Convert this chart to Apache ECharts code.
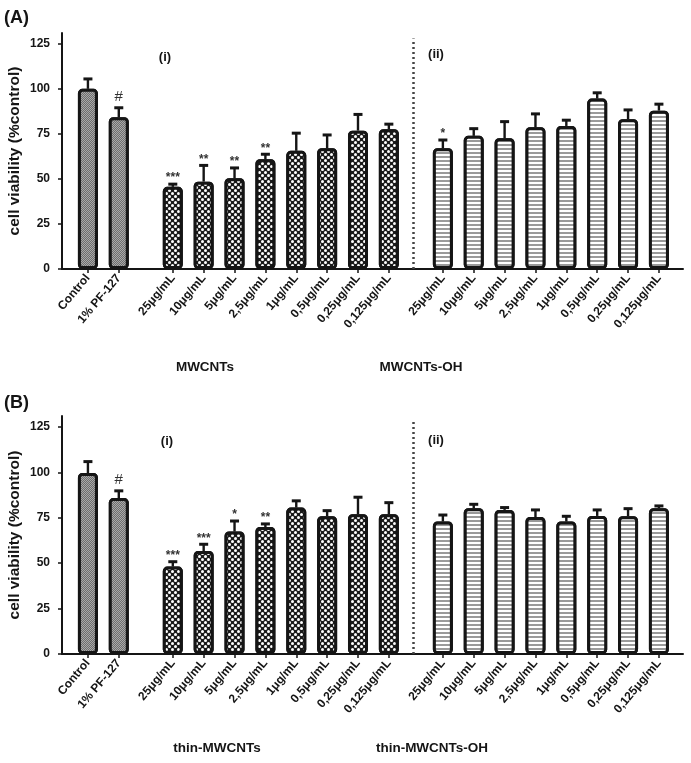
<!DOCTYPE html>
<html>
<head>
<meta charset="utf-8">
<script src="https://cdn.jsdelivr.net/npm/echarts@6/dist/echarts.min.js"></script>
<style>html,body{margin:0;padding:0;background:#fff}#c{width:691px;height:763px}</style>
</head>
<body>
<div id="c"></div>
<script>
// ---------- data ----------
const controlCats = ['Control', '1% PF-127'];
const doseCats = ['25μg/mL', '10μg/mL', '5μg/mL', '2,5μg/mL', '1μg/mL', '0,5μg/mL', '0,25μg/mL', '0,125μg/mL'];
const yTicks = [0, 25, 50, 75, 100, 125];
const panelTitles = ['(A)', '(B)'];
const subTitles = ['(i)', '(ii)'];
const groupNamesA = ['MWCNTs', 'MWCNTs-OH'];
const groupNamesB = ['thin-MWCNTs', 'thin-MWCNTs-OH'];
const yName = 'cell viability (%control)';

// Panel A
const A_ctrl = [100, 84.3];
const A_ctrlErr = [5.5, 5.2];
const A_ctrlSig = ['', '#'];
const A_mw = [45.6, 48.5, 50.4, 60.9, 65.6, 67.0, 76.8, 77.6];
const A_mwErr = [1.5, 9.0, 5.7, 2.8, 9.8, 7.4, 9.0, 2.8];
const A_mwSig = ['***', '**', '**', '**', '', '', '', ''];
const A_oh = [67.0, 73.9, 72.6, 78.7, 79.4, 94.6, 83.1, 87.9];
const A_ohErr = [4.6, 4.0, 9.2, 7.4, 3.2, 3.2, 5.2, 3.6];
const A_ohSig = ['*', '', '', '', '', '', '', ''];

// Panel B
const B_ctrl = [99.6, 85.8];
const B_ctrlErr = [6.3, 4.0];
const B_ctrlSig = ['', '#'];
const B_mw = [48.1, 56.7, 67.4, 69.9, 80.6, 75.8, 76.9, 76.9];
const B_mwErr = [2.7, 3.7, 5.8, 1.7, 3.7, 3.1, 9.4, 6.4];
const B_mwSig = ['***', '***', '*', '**', '', '', '', ''];
const B_oh = [72.9, 80.2, 79.3, 75.4, 72.9, 76.0, 75.8, 80.2];
const B_ohErr = [3.6, 2.2, 1.3, 3.9, 2.9, 3.3, 4.2, 1.3];
const B_ohSig = ['', '', '', '', '', '', '', ''];

// ---------- layout helpers ----------
const MW_START = 2.75, OH_START = 11.5;
const posCtrl = i => i;
const posMw = j => MW_START + j;
const posOh = j => OH_START + j;
const dividerPos = (posMw(doseCats.length - 1) + posOh(0)) / 2 - 0.07;

const labelMap = {};
controlCats.forEach((c, i) => labelMap[Math.round(posCtrl(i) * 100)] = c);
doseCats.forEach((c, j) => { labelMap[Math.round(posMw(j) * 100)] = c; labelMap[Math.round(posOh(j) * 100)] = c; });
const tickPositions = [].concat(controlCats.map((c, i) => posCtrl(i)), doseCats.map((c, j) => posMw(j)), doseCats.map((c, j) => posOh(j)));

const FONT = 'Arial, "Liberation Sans", Helvetica, sans-serif';
const INK = '#151515';
const groupFont = 'bold 13.5px ' + FONT;

const styles = {
  ctrl: {
    color: '#8c8c8c',
    decal: { symbol: 'rect', symbolSize: 1, dashArrayX: [[1, 1], [0, 1, 1, 0]], dashArrayY: [1, 0], color: '#6e6e6e', backgroundColor: '#a9a9a9' }
  },
  mw: {
    color: '#777',
    decal: { symbol: 'circle', symbolSize: 1, dashArrayX: [[3, 3], [0, 3, 3, 0]], dashArrayY: [3, 0], color: '#ffffff', backgroundColor: '#1a1a1a' }
  },
  oh: {
    color: '#bbb',
    decal: { symbol: 'rect', symbolSize: 1, dashArrayX: [1, 0], dashArrayY: [2, 2], color: '#9a9a9a', backgroundColor: '#ffffff' }
  }
};

function barSeries(gi, vals, posFn, st) {
  return {
    type: 'bar', xAxisIndex: gi, yAxisIndex: gi, barWidth: 20, barGap: '-100%',
    itemStyle: { color: st.color, decal: st.decal, borderColor: INK, borderWidth: 3, borderRadius: 3 },
    data: vals.map((v, i) => [posFn(i), v]),
    z: 2
  };
}
function errSeries(gi, vals, errs, sigs, posFn) {
  return {
    type: 'custom', xAxisIndex: gi, yAxisIndex: gi, z: 5,
    data: vals.map((v, i) => [posFn(i), v, errs[i]]),
    renderItem: (params, api) => {
      const x = api.value(0), v = api.value(1), e = api.value(2);
      const p0 = api.coord([x, v]);
      const p1 = api.coord([x, v + e]);
      const sig = sigs[params.dataIndex];
      const isHash = sig === '#';
      return {
        type: 'group',
        children: [
          { type: 'line', shape: { x1: p0[0], y1: p0[1], x2: p1[0], y2: p1[1] }, style: { stroke: INK, lineWidth: 2.4 } },
          { type: 'line', shape: { x1: p1[0] - 4.5, y1: p1[1], x2: p1[0] + 4.5, y2: p1[1] }, style: { stroke: INK, lineWidth: 3 } },
          { type: 'text', x: p1[0], y: p1[1] - (isHash ? 3 : 0), style: { text: sig, textAlign: 'center', textVerticalAlign: 'bottom', font: (isHash ? '15px ' : 'bold 12px ') + FONT, fill: '#333' } }
        ]
      };
    }
  };
}
function dividerSeries(gi) {
  return {
    type: 'line', xAxisIndex: gi, yAxisIndex: gi, data: [], silent: true,
    markLine: { symbol: 'none', silent: true, label: { show: false },
      lineStyle: { type: [2, 3], color: '#444', width: 2.5 },
      data: [[{ coord: [dividerPos, 0] }, { coord: [dividerPos, 128] }]] }
  };
}

const grids = [
  { left: 62, right: 8, top: 33, height: 236, containLabel: false, outerBoundsMode: 'none' },
  { left: 62, right: 8, top: 416, height: 238, containLabel: false, outerBoundsMode: 'none' }
];
function xAxisDef(gi) {
  return {
    type: 'value', gridIndex: gi, min: -0.84, max: 19.28,
    splitLine: { show: false },
    axisLine: { show: true, onZero: false, lineStyle: { color: INK, width: 2 } },
    axisTick: { show: true, customValues: tickPositions, length: 4, lineStyle: { color: INK, width: 1.5 } },
    axisLabel: { customValues: tickPositions, rotate: 50, margin: 7, fontSize: 12, fontWeight: 'bold', fontFamily: FONT, color: INK,
      formatter: v => labelMap[Math.round(v * 100)] || '' }
  };
}
function yAxisDef(gi) {
  return {
    type: 'value', gridIndex: gi, min: 0, max: 131, interval: 25,
    name: yName, nameLocation: 'middle', nameGap: 39, nameRotate: 90, nameMoveOverlap: false,
    nameTextStyle: { fontSize: 15.5, fontWeight: 'bold', fontFamily: FONT, color: INK },
    splitLine: { show: false },
    axisLine: { show: true, onZero: false, lineStyle: { color: INK, width: 2 } },
    axisTick: { show: true, customValues: yTicks, length: 4, lineStyle: { color: INK, width: 1.5 } },
    axisLabel: { customValues: yTicks, margin: 12, fontSize: 12, fontWeight: 'bold', fontFamily: FONT, color: INK }
  };
}

const textEl = (txt, x, y, font, align) => ({
  type: 'text', x: x, y: y,
  style: { text: txt, font: font, fill: INK, textAlign: align || 'center', textVerticalAlign: 'middle' }
});
const bold = s => 'bold ' + s + 'px ' + FONT;

const option = {
  animation: false,
  backgroundColor: '#fff',
  grid: grids,
  xAxis: [xAxisDef(0), xAxisDef(1)],
  yAxis: [yAxisDef(0), yAxisDef(1)],
  series: [
    barSeries(0, A_ctrl, posCtrl, styles.ctrl),
    barSeries(0, A_mw, posMw, styles.mw),
    barSeries(0, A_oh, posOh, styles.oh),
    errSeries(0, A_ctrl, A_ctrlErr, A_ctrlSig, posCtrl),
    errSeries(0, A_mw, A_mwErr, A_mwSig, posMw),
    errSeries(0, A_oh, A_ohErr, A_ohSig, posOh),
    dividerSeries(0),
    barSeries(1, B_ctrl, posCtrl, styles.ctrl),
    barSeries(1, B_mw, posMw, styles.mw),
    barSeries(1, B_oh, posOh, styles.oh),
    errSeries(1, B_ctrl, B_ctrlErr, B_ctrlSig, posCtrl),
    errSeries(1, B_mw, B_mwErr, B_mwSig, posMw),
    errSeries(1, B_oh, B_ohErr, B_ohSig, posOh),
    dividerSeries(1)
  ],
  graphic: [
    textEl(panelTitles[0], 4, 18, bold(18), 'left'),
    textEl(panelTitles[1], 4, 403, bold(18), 'left'),
    textEl(subTitles[0], 165, 57, bold(13)),
    textEl(subTitles[1], 436, 54, bold(13)),
    textEl(subTitles[0], 167, 441, bold(13)),
    textEl(subTitles[1], 436, 440, bold(13)),
    textEl(groupNamesA[0], 205, 367, groupFont),
    textEl(groupNamesA[1], 421, 367, groupFont),
    textEl(groupNamesB[0], 217, 748, groupFont),
    textEl(groupNamesB[1], 432, 748, groupFont)
  ]
};

const chart = echarts.init(document.getElementById('c'), null, { renderer: 'canvas' });
chart.setOption(option);
</script>
</body>
</html>
